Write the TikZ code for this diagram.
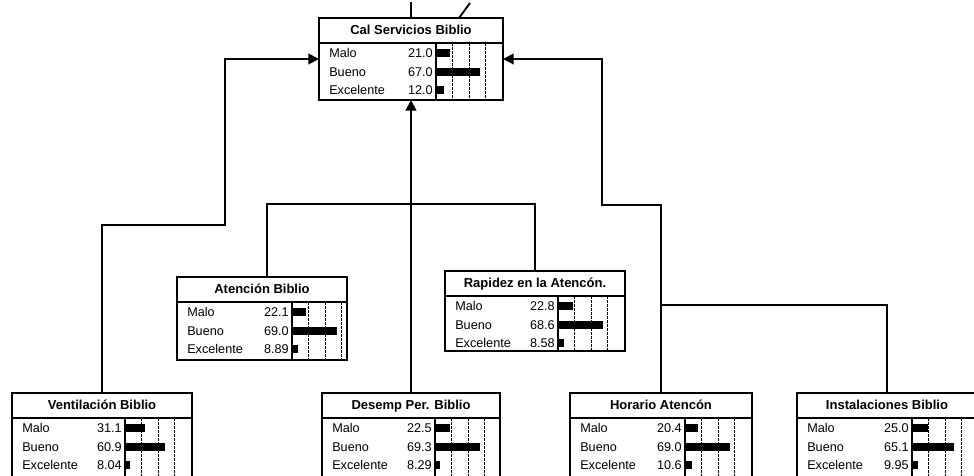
\documentclass[tikz,border=0pt]{standalone}
\usepackage{fontspec}
\setmainfont{Liberation Sans}
\usetikzlibrary{calc,arrows.meta}
\tikzset{
 x=0.75pt, y=-0.75pt,
 bbox/.style={draw, line width=1.1pt, anchor=north west, inner sep=0pt, outer sep=0pt},
 ttl/.style={font=\bfseries\fontsize{9.75}{10}\selectfont, inner sep=0pt, text height=1.5ex, text depth=0.4ex},
 lbl/.style={font=\fontsize{9.5}{10}\selectfont, inner sep=0pt, anchor=west, text height=1.5ex, text depth=0.3ex},
 val/.style={font=\fontsize{9.5}{10}\selectfont, inner sep=0pt, anchor=east, text height=1.5ex, text depth=0.3ex},
 sepln/.style={line width=1pt},
 gridln/.style={line width=0.5pt, dash pattern=on 2pt off 1pt},
 conn/.style={line width=1.4pt},
 arr/.style={conn, -{Triangle[length=8pt,width=8pt]}},
}
\newcommand\bnbox[9]{%
 \node[bbox, minimum width=#3*0.75pt, minimum height=#4*0.75pt] (#1) at (#2) {};
 \node[ttl] (#1-title) at ($(#1.north west)+(#3/2,12.5)$) {#6};
 \draw[sepln] ($(#1.north west)+(0,25)$) -- ++(#3,0);
 \draw[sepln] ($(#1.north west)+(#5,25)$) -- ++(0,#4-25);
 \foreach \g in {16.5,33,49.5} \draw[gridln] ($(#1.north west)+(#5+\g,25)$) -- ++(0,#4-25);
 \foreach \lab/\v/\yy in {Malo/#7/35, Bueno/#8/54, Excelente/#9/72} {
   \node[lbl] (#1-\lab) at ($(#1.north west)+(10,\yy)$) {\lab};
   \node[val] (#1-\lab-v) at ($(#1.north west)+(#5-3,\yy)$) {\v};
   \fill ($(#1.north west)+(#5,\yy-4)$) rectangle ++(\v*0.65,8);
 }
}
\begin{document}
\begin{tikzpicture}
\useasboundingbox (0,0) rectangle (974,475);
\clip (0,0) rectangle (974,475);
\bnbox{top}{319,18}{184}{82}{117}{Cal Servicios Biblio}{21.0}{67.0}{12.0}
\bnbox{aten}{177,277}{170}{83}{115}{Atención Biblio}{22.1}{69.0}{8.89}
\bnbox{rap}{445,271}{180}{80}{113}{Rapidez en la Atencón.}{22.8}{68.6}{8.58}
\bnbox{vent}{12,393}{180}{90}{113}{Ventilación Biblio}{31.1}{60.9}{8.04}
\bnbox{des}{322,393}{178}{90}{113}{Desemp Per. Biblio}{22.5}{69.3}{8.29}
\bnbox{hor}{570,393}{182}{90}{115}{Horario Atencón}{20.4}{69.0}{10.6}
\bnbox{inst}{797,393}{180}{90}{115}{Instalaciones Biblio}{25.0}{65.1}{9.95}
\coordinate (lstep) at (225,225);
\coordinate (rstep) at (602,205);
\coordinate (junc) at (411,204);
\coordinate (hjunc) at (661,305);
\coordinate (upA) at (411,2);
\coordinate (upB) at (470,3);
\draw[arr] (vent.north) |- (lstep) |- (top.west);
\draw[arr] (hor.north) |- (rstep) |- (top.east);
\draw[arr] (des.north) -- (des.north |- top.south);
\draw[conn] ($(aten.north west)+(90,0)$) |- (junc) -| (rap.north);
\draw[conn] (inst.north) |- (hjunc);
\draw[conn] (top.north) -- (upA);
\draw[conn] ($(top.north west)+(140,0)$) -- (upB);
\end{tikzpicture}
\end{document}
